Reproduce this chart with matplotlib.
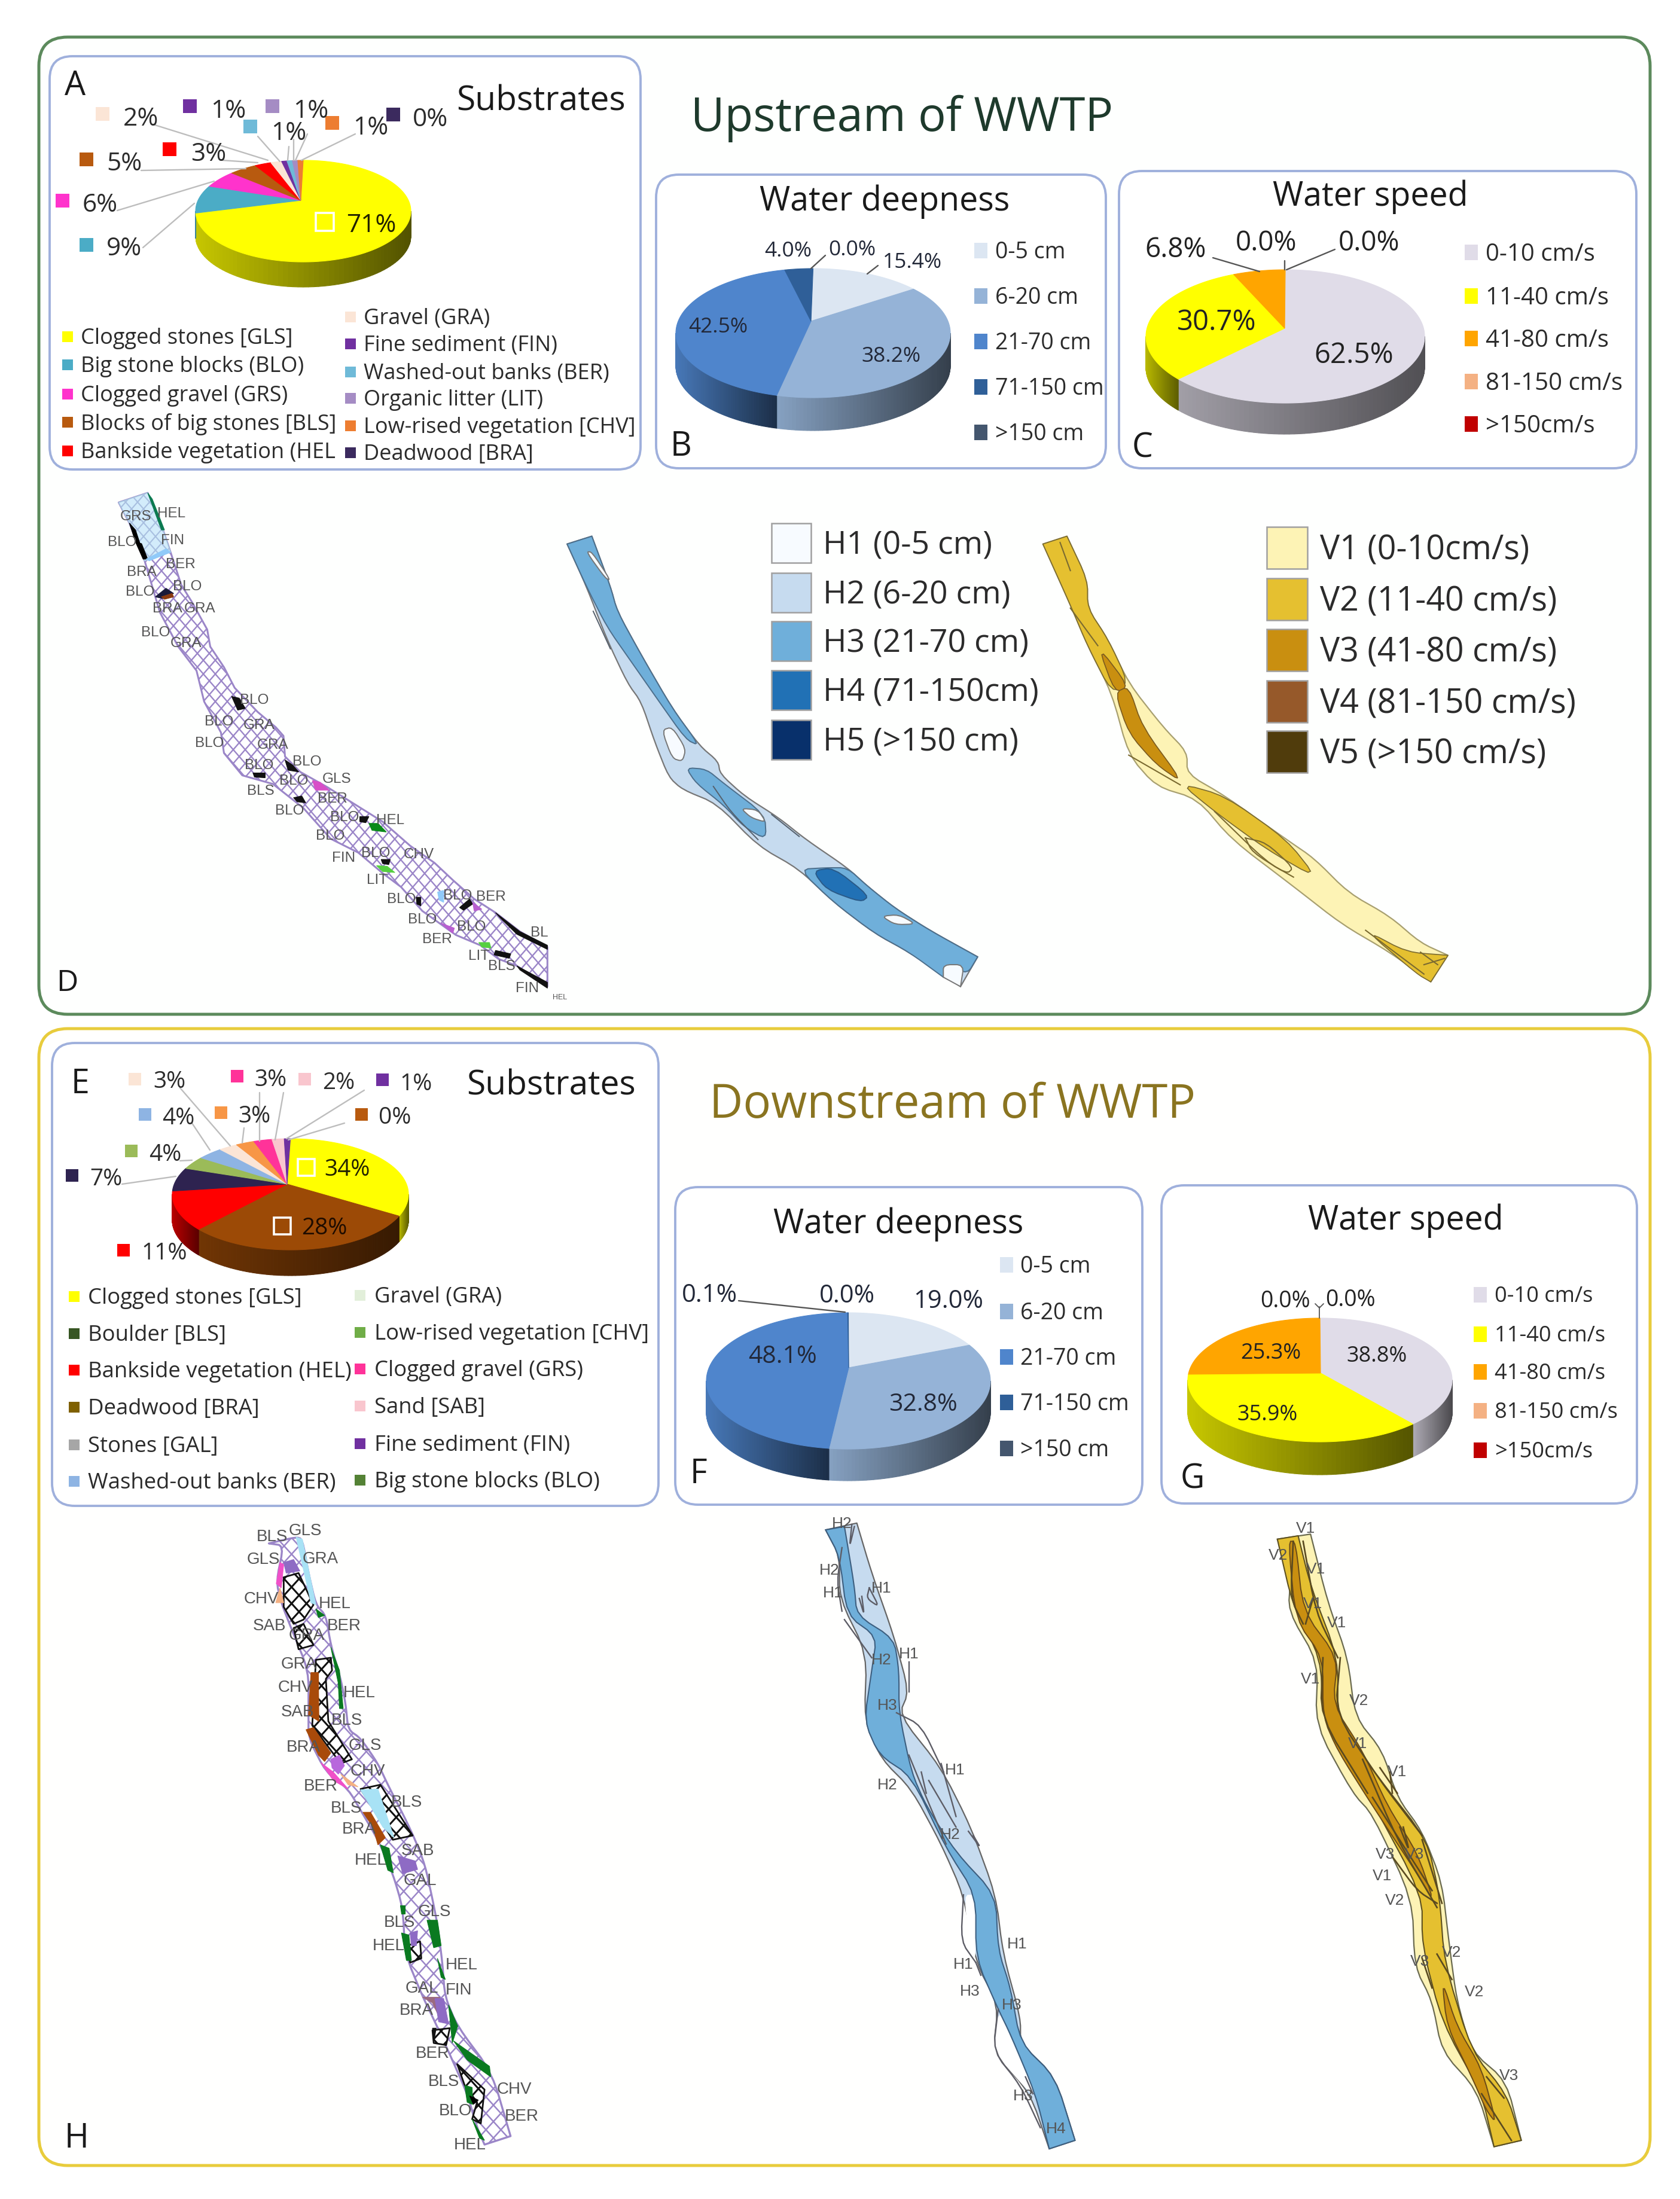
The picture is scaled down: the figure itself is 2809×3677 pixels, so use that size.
import numpy as np
import matplotlib
matplotlib.use("Agg")
import matplotlib.pyplot as plt
from matplotlib.patches import FancyBboxPatch, Rectangle, Polygon
from matplotlib.collections import LineCollection
from matplotlib.colors import to_rgb

# ---------- data ----------
SUB_A_LABELS = ["Clogged stones [GLS]", "Big stone blocks (BLO)", "Clogged gravel (GRS)", "Blocks of big stones [BLS]",
                "Bankside vegetation (HEL", "Gravel (GRA)", "Fine sediment (FIN)", "Washed-out banks (BER)",
                "Organic litter (LIT)", "Low-rised vegetation [CHV]", "Deadwood [BRA]"]
SUB_A_VALUES = [71, 9, 6, 5, 3, 2, 1, 1, 1, 1, 0]
SUB_A_COLORS = ["#FFFF00", "#4BACC6", "#FF33CC", "#B85A0F", "#FF0000", "#FBE5D6", "#7030A0", "#6FBAD8", "#A58CC4", "#ED7D31", "#3B2A5E"]

DEPTH_LABELS = ["0-5 cm", "6-20 cm", "21-70 cm", "71-150 cm", ">150 cm"]
DEPTH_COLORS = ["#DCE6F2", "#95B3D7", "#4F85CC", "#2F5F98", "#44566E"]
DEPTH_UP = [15.4, 38.2, 42.5, 4.0, 0.0]
DEPTH_DOWN = [19.0, 32.8, 48.1, 0.1, 0.0]

SPEED_LABELS = ["0-10 cm/s", "11-40 cm/s", "41-80 cm/s", "81-150 cm/s", ">150cm/s"]
SPEED_COLORS = ["#E0DCE8", "#FFFF00", "#FFA500", "#F4B183", "#C00000"]
SPEED_UP = [62.5, 30.7, 6.8, 0.0, 0.0]
SPEED_DOWN_VALUES = [38.8, 35.9, 25.3, 0.0, 0.0]

SUB_E_LEFT = ["Clogged stones [GLS]", "Boulder [BLS]", "Bankside vegetation (HEL)", "Deadwood [BRA]", "Stones [GAL]", "Washed-out banks (BER)"]
SUB_E_LEFT_C = ["#FFFF00", "#375623", "#FF0000", "#7F6000", "#A6A6A6", "#8EB4E3"]
SUB_E_RIGHT = ["Gravel (GRA)", "Low-rised vegetation [CHV]", "Clogged gravel (GRS)", "Sand [SAB]", "Fine sediment (FIN)", "Big stone blocks (BLO)"]
SUB_E_RIGHT_C = ["#E2EFDA", "#70AD47", "#FF3399", "#F9C6CE", "#7030A0", "#548235"]
SUB_E_VALUES = [34, 28, 11, 7, 4, 4, 3, 3, 3, 2, 1, 0]
SUB_E_COLORS = ["#FFFF00", "#9C4A06", "#FF0000", "#2E2350", "#9BBB59", "#8EB4E3", "#FBE5D6", "#F79646", "#FF3399", "#F9C6CE", "#7030A0", "#B85A0F"]

H_LEGEND = ["H1 (0-5 cm)", "H2 (6-20 cm)", "H3 (21-70 cm)", "H4 (71-150cm)", "H5 (>150 cm)"]
H_COLORS = ["#F7FBFF", "#C6DBEF", "#6FAFDA", "#2171B5", "#08306B"]
V_LEGEND = ["V1 (0-10cm/s)", "V2 (11-40 cm/s)", "V3 (41-80 cm/s)", "V4 (81-150 cm/s)", "V5 (>150 cm/s)"]
V_COLORS = ["#FDF3B5", "#E5C030", "#C98F10", "#96592A", "#503C0C"]

# map D (crop 150,800,800x900)
D_BANK = [(95,70),(190,42),(225,110),(265,215),(300,310),(335,360),(385,440),(395,490),(440,550),(475,610),(550,680),(610,725),(635,750),(640,810),(690,855),(780,900),(870,950),(960,1000),(1050,1070),(1130,1120),(1190,1170),(1260,1225),(1330,1265),(1410,1320),(1500,1365),(1500,1480),(1400,1420),(1340,1400),(1280,1360),(1200,1330),(1090,1260),(1020,1190),(960,1150),(880,1090),(790,1050),(700,960),(600,890),(500,865),(440,800),(430,740),(375,650),(350,560),(290,490),(230,390),(180,240),(130,130)]
D_TOP = [(95,70),(190,42),(225,110),(265,215),(180,240),(130,130)]
D_PATCHES = [("#000000",[(150,185),(170,190),(190,235),(175,235)]),("#000000",[(130,130),(150,150),(165,190),(150,185)]),
 ("#0b7a50",[(190,42),(205,60),(245,150),(235,150)]),("#90CAF9",[(185,235),(250,205),(265,215),(195,240)]),
 ("#1a1a3a",[(215,345),(250,320),(275,335),(240,350)]),("#8B3A0F",[(235,345),(270,335),(275,345),(245,352)]),
 ("#111111",[(465,635),(490,640),(510,670),(485,675)]),("#111111",[(640,820),(665,835),(685,855),(650,850)]),
 ("#111111",[(535,858),(575,858),(575,872),(540,870)]),("#111111",[(668,930),(695,925),(708,945),(680,942)]),
 ("#111111",[(885,985),(915,985),(905,1003),(885,1000)]),("#0a8a1a",[(915,1005),(945,1005),(972,1030),(925,1025)]),
 ("#d84fc8",[(730,880),(755,885),(785,908),(740,908)]),("#55d040",[(940,1128),(975,1130),(1000,1148),(960,1145)]),
 ("#111111",[(955,1110),(985,1110),(980,1125),(960,1122)]),("#111111",[(1212,1250),(1245,1225),(1255,1240),(1225,1258)]),
 ("#b95fd0",[(1255,1235),(1285,1255),(1260,1260)]),("#b95fd0",[(1150,1295),(1195,1310),(1190,1325)]),
 ("#111111",[(1070,1220),(1085,1220),(1085,1245),(1072,1240)]),("#90CAF9",[(1140,1205),(1160,1200),(1160,1235),(1145,1228)]),
 ("#111111",[(1330,1265),(1410,1320),(1500,1360),(1500,1372),(1400,1328),(1345,1280)]),("#111111",[(1330,1375),(1380,1385),(1375,1398),(1325,1388)]),
 ("#55d040",[(1275,1352),(1310,1352),(1315,1368),(1285,1365)]),("#111111",[(1400,1420),(1500,1468),(1500,1485),(1410,1432)])]
D_TEXT = [("GRS",152,107),("HEL",268,100),("BLO",107,183),("FIN",272,178),("BRA",170,270),("BER",297,248),("BLO",165,327),("BLO",320,312),("BRA",255,377),("GRA",360,377),("BLO",215,445),("GRA",315,478),("BLO",540,643),("BLO",423,705),("GRA",555,716),("BLO",392,768),("GRA",600,773),("BLO",556,832),("BLO",712,822),("GLS",810,873),("BLO",668,878),("BLS",560,908),("BER",795,930),("BLO",655,965),("BLO",835,985),("HEL",985,993),("BLO",788,1038),("FIN",833,1103),("BLO",937,1088),("CHV",1078,1093),("LIT",942,1167),("BLO",1022,1222),("BLO",1205,1213),("BER",1315,1216),("BLO",1090,1282),("BLO",1250,1303),("BER",1138,1340),("BL",1473,1320),("LIT",1275,1388),("BLS",1350,1418),("FIN",1433,1482)]

# map upstream blue / yellow (crop 900,860,1800x820)
UB_BANK = [(78,70),(105,230),(115,310),(150,450),(195,620),(235,740),(262,790),(265,830),(300,900),(350,970),(390,1040),(450,1130),(480,1190),(520,1260),(570,1330),(640,1415),(615,1510),(540,1400),(490,1340),(430,1240),(380,1135),(320,1060),(260,925),(210,880),(190,840),(170,730),(150,600),(130,540),(100,400),(70,230),(42,95)]
UB_H3 = [[(42,95),(78,70),(105,230),(115,310),(150,450),(195,620),(235,740),(215,720),(170,580),(135,470),(100,360),(70,230)],
 [(215,810),(245,815),(270,860),(330,960),(332,1040),(300,1000),(270,930),(230,860)],
 [(380,1135),(420,1130),(450,1130),(480,1190),(520,1260),(570,1330),(640,1415),(625,1470),(600,1440),(590,1480),(540,1400),(490,1340),(430,1240)]]
UB_H4 = [(400,1140),(430,1130),(482,1220),(470,1240),(420,1200)]
UB_H1 = [[(180,690),(195,680),(215,750),(210,790),(195,780)],[(295,940),(320,945),(332,985),(310,970)],[(500,1285),(525,1280),(550,1310),(520,1312)],[(590,1440),(620,1440),(615,1510),(590,1480)],[(70,120),(78,120),(105,210),(98,205)]]
UB_LINES = [[(255,870),(280,950),(320,1040)],[(340,960),(380,1030)],[(80,310),(105,430)]]
UY_BANK = [(770,70),(800,210),(800,300),(830,400),(860,540),(910,680),(945,760),(945,830),(1000,900),(1090,1040),(1130,1100),(1180,1210),(1240,1285),(1285,1370),(1325,1410),(1300,1495),(1240,1400),(1170,1310),(1100,1190),(1010,1040),(960,910),(900,870),(860,770),(835,570),(800,420),(775,290),(735,95)]
UY_V2 = [[(735,95),(770,70),(800,210),(800,300),(830,400),(860,540),(835,570),(800,420),(775,290)],[(935,860),(1000,900),(1090,1040),(1135,1165),(1060,1070),(985,950)],[(1205,1330),(1265,1400),(1325,1410),(1300,1495),(1280,1470)]]
UY_V3 = [[(815,420),(860,550),(840,570)],[(840,570),(860,550),(880,680),(940,860),(900,800),(860,700)]]
UY_LINES = [[(985,950),(1060,1110),(1100,1160)],[(1030,1035),(1060,1050),(1100,1130),(1090,1150),(1040,1080),(1030,1035)],[(1285,1400),(1310,1440)],[(1290,1440),(1320,1420)],[(1205,1330),(1290,1470)],[(760,90),(775,180)],[(775,300),(815,420)],[(860,770),(935,865)]]

# map H (crop 350,2510,650x1110)
H_BANK = [(240,100),(350,85),(375,90),(400,170),(430,245),(470,270),(490,340),(530,420),(550,480),(560,540),(610,560),(680,620),(720,670),(790,750),(830,800),(870,860),(900,940),(920,1000),(940,1090),(950,1170),(1000,1240),(1140,1350),(1215,1500),(1110,1520),(1080,1480),(1040,1400),(980,1320),(910,1230),(860,1170),(790,1070),(780,960),(740,880),(680,800),(620,740),(560,680),(470,640),(400,560),(400,500),(400,400),(330,300),(290,240),(270,190),(300,105)]
H_BLACK = [[(300,180),(360,170),(420,245),(380,280),(340,290),(300,250)],[(340,300),(380,290),(420,340),(360,350)],[(430,375),(490,370),(495,400),(470,420),(480,520),(575,610),(530,620),(415,530)],[(610,680),(690,670),(820,790),(740,800)],[(900,1250),(970,1245),(955,1285),(905,1280)],[(1000,1330),(1110,1390),(1095,1470),(1060,1460),(1080,1420),(1030,1380)],[(800,1050),(850,1040),(855,1080),(810,1090)]]
H_PATCHES = [("#8E6BC4",[(300,145),(340,138),(365,165),(310,170)]),("#F050C8",[(285,145),(300,150),(290,205),(270,195)]),
 ("#A8E2F5",[(350,85),(375,90),(430,245),(410,240),(375,150)]),("#F4B183",[(285,205),(300,240),(268,240)]),
 ("#0a7a20",[(430,255),(465,270),(440,275)]),("#0a7a20",[(490,345),(525,400),(540,490),(525,490),(520,430)]),
 ("#A84A0A",[(410,405),(440,405),(442,520),(400,505)]),("#A84A0A",[(390,540),(420,535),(490,595),(465,615),(440,600)]),
 ("#B868DC",[(490,610),(525,600),(545,625),(520,645),(495,630)]),("#F050C8",[(450,618),(500,640),(560,680),(500,660)]),
 ("#F4B183",[(530,645),(600,675),(560,670)]),("#A8E2F5",[(610,682),(680,680),(745,795),(700,770)]),
 ("#A84A0A",[(620,735),(650,735),(710,795),(680,812),(660,770)]),("#0a7a20",[(690,812),(725,820),(742,878),(720,872)]),
 ("#8E6BC4",[(760,838),(830,850),(840,870),(780,880)]),("#0a7a20",[(878,990),(920,990),(935,1050),(905,1055)]),
 ("#0a7a20",[(775,1020),(805,1025),(815,1085),(795,1085)]),("#8E6BC4",[(810,1020),(840,1015),(835,1050),(815,1050)]),
 ("#0a7a20",[(920,1080),(952,1130),(935,1125)]),("#9b6a80",[(860,1172),(930,1172),(920,1210),(900,1185)]),
 ("#8E6BC4",[(910,1175),(945,1175),(965,1235),(925,1230)]),("#0a7a20",[(965,1190),(1002,1240),(980,1280)]),
 ("#0a7a20",[(985,1275),(1130,1335),(1135,1360),(1040,1320)]),("#0a7a20",[(1030,1380),(1060,1385),(1062,1425),(1040,1420)]),
 ("#000000",[(1050,1405),(1085,1415),(1065,1425)]),("#0a7a20",[(1060,1460),(1110,1510),(1090,1505)]),
 ("#0a7a20",[(770,955),(790,955),(790,975),(775,975)]),("#111111",[(900,1245),(915,1245),(905,1280)])]
H_TEXT = [("GLS",388,67),("BLS",253,82),("GLS",217,135),("GRA",447,133),("CHV",210,228),("HEL",505,240),("SAB",243,292),("BER",543,292),("GRA",393,315),("GRA",362,382),("CHV",347,437),("HEL",605,450),("SAB",355,495),("BLS",555,515),("BRA",380,578),("GLS",628,575),("CHV",640,635),("BER",450,670),("BLS",795,708),("BLS",552,722),("BRA",603,772),("SAB",840,823),("HEL",650,845),("GAL",850,893),("GLS",907,967),("BLS",768,993),("HEL",723,1048),("HEL",1018,1093),("GAL",858,1148),("FIN",1005,1152),("BRA",835,1200),("BER",900,1302),("BLS",945,1368),("CHV",1230,1386),("BLO",992,1438),("BER",1260,1450),("HEL",1050,1518)]

# maps downstream blue / yellow (crop 1300,2510,1300x1110)
DB_BANK = [(160,52),(190,170),(235,320),(265,450),(245,505),(330,630),(390,770),(440,930),(455,1070),(490,1220),(490,1280),(560,1360),(600,1510),(548,1530),(510,1400),(435,1300),(445,1190),(400,1090),(375,930),(330,810),(270,680),(210,610),(175,520),(180,360),(125,230),(125,130),(97,68)]
DB_WHITE = [[(375,930),(400,930),(400,1080),(392,1075)],[(445,1200),(470,1265),(520,1400),(510,1400),(435,1300)]]
DB_H3 = [(97,68),(135,60),(155,200),(160,270),(235,325),(245,400),(245,500),(270,640),(300,720),(360,830),(440,930),(445,1060),(470,1150),(490,1280),(560,1360),(600,1510),(548,1530),(520,1400),(470,1260),(445,1200),(400,1080),(400,930),(340,820),(270,650),(205,600),(175,520),(190,400),(200,320),(140,270),(125,130)]
DB_LINES = [[(155,60),(145,110),(150,55)],[(170,225),(175,270),(165,230)],[(185,205),(205,250),(180,230),(185,205)],[(240,500),(290,530),(335,640)],[(265,600),(300,700),(340,810)],[(305,660),(360,770)],[(330,620),(360,745)],[(385,780),(410,820),(395,790)],[(375,930),(370,1040),(400,1090)],[(265,380),(265,450)],[(400,1090),(410,1120)],[(445,1200),(435,1300),(490,1380),(530,1480)],[(500,1360),(515,1400)],[(130,110),(120,190),(130,260)],[(290,640),(300,690)],[(135,280),(190,370)]]
DB_TEXT = [("H2",130,50),("H2",105,160),("H1",112,215),("H1",210,203),("H1",265,358),("H2",210,372),("H3",222,480),("H1",358,632),("H2",222,668),("H2",348,785),("H1",483,1043),("H1",375,1092),("H3",388,1155),("H3",472,1187),("H3",495,1402),("H4",562,1480)]
DY_BANK = [(1075,78),(1110,240),(1150,370),(1165,510),(1220,590),(1250,700),(1300,780),(1340,900),(1355,1050),(1370,1180),(1400,1300),(1470,1370),(1500,1510),(1445,1525),(1410,1390),(1340,1300),(1320,1180),(1285,1100),(1280,940),(1200,740),(1160,690),(1085,530),(1090,380),(1030,260),(1035,180),(1008,90)]
DY_V2 = [(1008,90),(1050,82),(1075,200),(1130,370),(1130,520),(1210,650),(1310,800),(1335,930),(1345,1090),(1400,1300),(1470,1400),(1500,1510),(1445,1525),(1420,1400),(1340,1230),(1300,1050),(1300,930),(1190,690),(1100,510),(1095,370),(1040,250)]
DY_V3 = [[(1030,95),(1045,95),(1060,260),(1130,370),(1120,480),(1180,590),(1230,720),(1290,830),(1325,950),(1290,880),(1200,720),(1130,590),(1100,510),(1100,370),(1045,280)],[(1340,1130),(1370,1240),(1420,1340),(1450,1470),(1430,1440),(1400,1360),(1350,1240)]]
DY_LINES = [[(1040,95),(1035,230),(1060,290)],[(1060,95),(1085,260),(1130,370)],[(1100,370),(1095,510),(1190,690)],[(1135,370),(1125,500),(1215,660),(1300,790)],[(1215,630),(1250,690)],[(1235,640),(1240,690)],[(1200,700),(1260,810),(1320,920)],[(1180,610),(1250,800),(1330,960)],[(1240,840),(1290,920),(1330,950)],[(1300,1080),(1320,1150)],[(1330,1070),(1360,1130)],[(1255,770),(1275,830),(1262,770)],[(1430,1360),(1465,1410)],[(1420,1400),(1480,1510)],[(1080,230),(1065,290)],[(1300,800),(1340,950)]]
DY_TEXT = [("V1",1065,62),("V2",1010,125),("V1",1085,158),("V1",1080,240),("V1",1128,285),("V1",1075,418),("V2",1172,468),("V1",1170,570),("V1",1250,637),("V3",1225,832),("V3",1285,832),("V1",1220,883),("V2",1245,940),("V2",1360,1063),("V3",1295,1085),("V2",1405,1157),("V3",1475,1355)]

# river end corners that stay sharp when the banks are smoothed
SHARP = {(78,70),(42,95),(640,1415),(615,1510),(770,70),(735,95),(1325,1410),(1300,1495),(160,52),(97,68),(600,1510),(548,1530),
         (1075,78),(1008,90),(1500,1510),(1445,1525),(1215,1500),(1110,1520),(1050,82),(135,60),(590,1480),(240,100)}

# ---------- helpers ----------
W, H = 2809, 3677
plt.rcParams["font.family"] = ["Open Sans", "DejaVu Sans"]
fig = plt.figure(figsize=(W/100, H/100), dpi=100)
ax = fig.add_axes([0, 0, 1, 1])
ax.set_xlim(0, W); ax.set_ylim(H, 0); ax.axis("off")
TXT = "#2b2b2b"
def crop(pts, x0, y0, w, h):
    return [(x0 + x*w/1568, y0 + y*h/1568) for x, y in pts]
def keep_sharp(pts):
    out = []
    for p in pts:
        out += [p, p] if tuple(p) in SHARP else [p]
    return out
def smooth(pts, closed=True, n=2, r=0.2):
    p = np.array(pts, float)
    for _ in range(n):
        q = np.roll(p, -1, axis=0) if closed else p[1:]
        a = p if closed else p[:-1]
        s = np.empty((2*len(a), 2))
        s[0::2] = a*(1-r) + q*r
        s[1::2] = a*r + q*(1-r)
        p = s
    return p
def T(x, y, s, size, ha="left", color=TXT, family=None, z=20, **kw):
    return ax.text(x, y + 0.12*size, s, fontsize=size, ha=ha, va="center", color=color, zorder=z,
                   **({"family": family} if family else {}), **kw)
def box(l, t, r, b, ec, lw, rad=38, fc="white"):
    ax.add_patch(FancyBboxPatch((l, t), r-l, b-t, boxstyle=f"round,pad=0,rounding_size={rad}",
                                fc=fc, ec=ec, lw=lw, zorder=1))
def shade(c, f):
    return tuple(min(1, v*f) for v in to_rgb(c))
def sq(x, y, c, s=24, sy=None):
    sy = sy or s
    ax.add_patch(Rectangle((x-s/2, y-sy/2), s, sy, fc=c, ec="none", zorder=10))
def hollow(x, y, s=30):
    ax.add_patch(Rectangle((x-s/2, y-s/2), s, s, fc="none", ec="white", lw=2.6, zorder=12))
def lines(segs, c="#bdbdbd", lw=1.7):
    for (x1, y1, x2, y2) in segs:
        ax.plot([x1, x2], [y1, y2], color=c, lw=lw, zorder=9, solid_capstyle="round")

def pie3d(cx, cy, left, right, top, bottom, depth, values, colors, f0=0.85, f1=0.38):
    a, b = cy-top, bottom-cy
    k = (b-a)/(a+b); ry = 2*a*b/(a+b)
    rx = 0.5*((cx-left)+(right-cx))*np.sqrt(1-k*k)
    xc = cx + 0.5*((right-cx)-(cx-left))
    def rim(t):
        u, v = np.sin(t), np.cos(t)
        return xc + rx*u/(1+k*v), cy - ry*v/(1+k*v)
    total = sum(values)
    edges = np.concatenate([[0], np.cumsum(values)])/total*2*np.pi
    vis0 = np.arccos(-k); vis1 = 2*np.pi - vis0
    for i, c in enumerate(colors):
        t0, t1 = max(edges[i], vis0), min(edges[i+1], vis1)
        if t1 <= t0:
            continue
        ts = np.linspace(t0, t1, 70)
        X, Y = rim(ts)
        xl, xr = X.min(), X.max()
        for j in range(len(ts)-1):
            frac = (0.5*(X[j]+X[j+1]) - xl)/max(xr-xl, 1)
            col = shade(c, f0 + (f1-f0)*frac)
            ax.fill([X[j], X[j+1], X[j+1], X[j]], [Y[j], Y[j+1], Y[j+1]+depth, Y[j]+depth],
                    fc=col, ec=col, lw=0.8, zorder=3)
    for i, c in enumerate(colors):
        if edges[i+1] <= edges[i]:
            continue
        ts = np.linspace(edges[i], edges[i+1], 200)
        X, Y = rim(ts)
        ax.fill(np.r_[cx, X], np.r_[cy, Y], fc=c, ec=c, lw=0.8, zorder=4)

def crosshatch(patch, xy, color, lw, step, slope, z):
    xy = np.asarray(xy)
    x0, x1 = xy[:, 0].min()-5, xy[:, 0].max()+5
    segs = []
    for sgn in (1, -1):
        vals = xy[:, 1] - sgn*slope*xy[:, 0]
        dy = step*slope
        for k in np.arange(np.floor(vals.min()/dy), np.ceil(vals.max()/dy)+1):
            cc = k*dy
            segs.append([(x0, sgn*slope*x0+cc), (x1, sgn*slope*x1+cc)])
    lc = LineCollection(segs, colors=color, linewidths=lw, zorder=z)
    ax.add_collection(lc, autolim=False)
    lc.set_clip_path(patch)

def river(bank, x0, y0, w, h, fc, ec, lw=1.5, z=5, soft=True, hatch=None):
    pts = crop(keep_sharp(bank), x0, y0, w, h)
    xy = smooth(pts) if soft else np.array(pts)
    p = Polygon(xy, closed=True, fc=fc, ec=ec, lw=lw, zorder=z, joinstyle="round")
    ax.add_patch(p)
    if hatch:
        crosshatch(p, xy, *hatch, z+0.1)
    return p
def blob(pts, c, fc, ec, lw, z):
    s = smooth(crop(keep_sharp(pts), *c))
    ax.fill(s[:, 0], s[:, 1], fc=fc, ec=ec, lw=lw, zorder=z)
def curve(pts, c, col, lw, z):
    s = np.array(crop(pts, *c))
    if len(s) > 2:
        s = np.vstack([s[0], smooth(s, closed=False), s[-1]])
    ax.plot(s[:, 0], s[:, 1], color=col, lw=lw, zorder=z)
def maptext(items, x0, y0, w, h, size):
    for s, x, y in items:
        px, py = crop([(x, y)], x0, y0, w, h)[0]
        T(px, py, s, size, ha="center", color="#555555", family="Liberation Sans", z=15)

# ---------- outer panels ----------
box(65, 62, 2759, 1696, "#5c8a5c", 3.6, rad=48, fc="#fefffe")
box(65, 1720, 2759, 3621, "#E8CC3C", 3.6, rad=48, fc="#fffffe")
PANEL = "#9fb0dc"
for l, t, r, b in [(83, 94, 1071, 785), (1097, 292, 1849, 783), (1871, 286, 2736, 783),
                   (87, 1744, 1101, 2518), (1129, 1985, 1910, 2516), (1942, 1982, 2737, 2514)]:
    box(l, t, r, b, PANEL, 2.8)

T(1508, 192, "Upstream of WWTP", 56, ha="center", color="#1E3A2C")
T(1593, 1842, "Downstream of WWTP", 56, ha="center", color="#8A7420")

# ---------- panel A ----------
T(126, 140, "A", 40, ha="center", color="#1a1a1a")
T(904, 165, "Substrates", 41, ha="center", color="#1a1a1a")
pie3d(503, 335, 327, 687, 268, 438, 42, SUB_A_VALUES, SUB_A_COLORS, 0.78, 0.32)
lines([(259,209,448,268),(372,268,431,272),(236,285,411,282),(196,352,358,303),(239,414,325,340),(431,228,468,270),
       (483,245,481,268),(491,233,491,268),(514,224,494,268),(594,224,504,268)])
A_MARK = [(171,191,206,195,5),(317,178,352,182,6),(455,178,490,182,8),(418,212,453,219,7),(555,206,590,210,9),(657,192,690,196,10),
          (283,250,319,254,4),(144,267,178,270,3),(104,336,138,339,2),(144,410,178,412,1)]
for sx_, sy_, tx, ty, i in A_MARK:
    sq(sx_, sy_, SUB_A_COLORS[i], 23)
    T(tx, ty, f"{SUB_A_VALUES[i]}%", 30.5)
hollow(543, 371); T(579, 373, f"{SUB_A_VALUES[0]}%", 30.5, color="#222200")
for i, y in enumerate([563, 610, 659, 706, 754]):
    sq(113, y, SUB_A_COLORS[i], 18); T(135, y, SUB_A_LABELS[i], 26)
for i, y in enumerate([530, 575, 622, 666, 712, 757]):
    sq(586, y, SUB_A_COLORS[i+5], 18); T(608, y, SUB_A_LABELS[i+5], 26)

# ---------- panel B ----------
T(1479, 332, "Water deepness", 40, ha="center", color="#1a1a1a")
pie3d(1356, 537, 1130, 1589, 449, 665, 55, DEPTH_UP, DEPTH_COLORS, 0.9, 0.35)
lines([(1380,427,1356,449),(1468,444,1450,458)], c="#555555")
for s, x, y in [(3,1318,417),(4,1425,415),(0,1525,436),(2,1201,544),(1,1490,593)]:
    T(x, y, f"{DEPTH_UP[s]:.1f}%", 25.5, ha="center", color="#222838")
for i, y in enumerate([419, 495, 571, 647, 723]):
    sq(1640, y, DEPTH_COLORS[i], 22, 26); T(1664, y, DEPTH_LABELS[i], 27)
T(1139, 743, "B", 40, ha="center", color="#1a1a1a")

# ---------- panel C ----------
T(2291, 324, "Water speed", 40, ha="center", color="#1a1a1a")
pie3d(2148, 549, 1916, 2382, 451, 674, 52, SPEED_UP, SPEED_COLORS, 0.72, 0.36)
lines([(2028,431,2106,454),(2232,417,2151,451),(2148,436,2148,451)], c="#555555")
for s, x, y, z in [(2,1966,414,33),(3,2117,403,33),(4,2289,403,33),(1,2034,535,34),(0,2264,590,34)]:
    T(x, y, f"{SPEED_UP[s]:.1f}%", z, ha="center", color="#222222")
for i, y in enumerate([422, 495, 566, 638, 709]):
    sq(2460, y, SPEED_COLORS[i], 22, 26); T(2484, y, SPEED_LABELS[i], 29)
T(1910, 745, "C", 40, ha="center", color="#1a1a1a")

# ---------- map D ----------
c = (150, 800, 800, 900)
river(D_BANK, *c, "white", "#9B86C8", lw=2.2, z=5, soft=False, hatch=("#9B86C8", 1.7, 20, 1.15))
river(D_TOP, *c, "#D3ECFB", "#A8C8E0", lw=1.2, z=6, soft=False, hatch=("#A8BFE0", 1.5, 20, 1.15))
for col, pts in D_PATCHES:
    ax.fill(*zip(*crop(pts, *c)), fc=col, ec=col, lw=0.8, zorder=7)
maptext(D_TEXT, *c, 17.5)
T(936, 1667, "HEL", 9, ha="center", color="#555555", family="Liberation Sans")
T(112, 1640, "D", 36, ha="center", color="#1a1a1a")

# ---------- map upstream depth / speed ----------
c = (900, 860, 1800, 820)
river(UB_BANK, *c, H_COLORS[1], "#777777", lw=1.6)
for p in UB_H3:
    blob(p, c, H_COLORS[2], "#4d6f8c", 1.4, 6)
blob(UB_H4, c, H_COLORS[3], "#2a5a88", 1.4, 7)
for p in UB_H1:
    blob(p, c, H_COLORS[0], "#777777", 1.4, 8)
for p in UB_LINES:
    curve(p, c, "#55606c", 1.4, 8)
for i, y in enumerate([908, 991, 1072, 1154, 1237]):
    ax.add_patch(Rectangle((1290, y-33), 66, 66, fc=H_COLORS[i], ec="#a0a0a0", lw=1.8, zorder=10))
    t = T(1376, y, H_LEGEND[i], 38.5)
    t.set_clip_path(Rectangle((1280, 850), 447, 450, transform=ax.transData))
river(UY_BANK, *c, V_COLORS[0], "#a8a070", lw=1.6)
for p in UY_V2:
    blob(p, c, V_COLORS[1], "#7a6a30", 1.2, 6)
for p in UY_V3:
    blob(p, c, V_COLORS[2], "#7a5a20", 1.2, 7)
for p in UY_LINES:
    curve(p, c, "#7a6a30", 1.5, 8)
for i, y in enumerate([916, 1002, 1087, 1173, 1257]):
    ax.add_patch(Rectangle((2118, y-35), 68, 70, fc=V_COLORS[i], ec="#a0a0a0", lw=1.8, zorder=10))
    T(2207, y, V_LEGEND[i], 40)

# ---------- panel E ----------
T(134, 1809, "E", 40, ha="center", color="#1a1a1a")
T(921, 1811, "Substrates", 41, ha="center", color="#1a1a1a")
pie3d(480, 1980, 288, 683, 1904, 2090, 43, SUB_E_VALUES, SUB_E_COLORS, 0.72, 0.35)
lines([(301,1819,385,1916),(321,1878,351,1923),(301,1941,321,1940),(204,1980,294,1967),(408,1886,405,1911),
       (434,1827,434,1908),(474,1827,460,1906),(609,1823,479,1904),(576,1878,482,1906)])
E_MARK = [(225,1805,256,1806,6),(396,1800,425,1803,8),(509,1805,539,1808,9),(639,1806,668,1810,10),(242,1864,271,1867,5),
          (369,1861,398,1864,7),(604,1864,633,1866,11),(219,1925,249,1928,4),(120,1966,150,1969,3),(206,2091,236,2093,2)]
for sx_, sy_, tx, ty, i in E_MARK:
    sq(sx_, sy_, SUB_E_COLORS[i], 21)
    t = T(tx, ty, f"{SUB_E_VALUES[i]}%", 28)
    t.set_clip_path(Rectangle((90, 1750), 625, 500, transform=ax.transData))
hollow(512, 1952, 28); T(542, 1953, f"{SUB_E_VALUES[0]}%", 28, color="#222200")
hollow(472, 2050, 28); T(504, 2051, f"{SUB_E_VALUES[1]}%", 28, color="#1e0c00")
Y_E = [2168, 2230, 2291, 2353, 2416, 2477]
for i, y in enumerate(Y_E):
    sq(124, y, SUB_E_LEFT_C[i], 18); T(147, y, SUB_E_LEFT[i], 26.3)
    sq(602, y-2, SUB_E_RIGHT_C[i], 18); T(626, y-2, SUB_E_RIGHT[i], 26.3)

# ---------- panel F ----------
T(1502, 2042, "Water deepness", 40, ha="center", color="#1a1a1a")
pie3d(1419, 2287, 1181, 1656, 2195, 2423, 53, DEPTH_DOWN, DEPTH_COLORS, 0.9, 0.35)
lines([(1235,2175,1413,2194)], c="#555555")
for s, x, y, z in [(3,1186,2162,30),(4,1416,2163,30),(0,1586,2172,30),(2,1309,2265,29.5),(1,1544,2345,29.5)]:
    T(x, y, f"{DEPTH_DOWN[s]:.1f}%", z, ha="center", color="#222838")
for i, y in enumerate([2115, 2193, 2269, 2345, 2422]):
    sq(1683, y, DEPTH_COLORS[i], 22, 26); T(1706, y, DEPTH_LABELS[i], 27)
T(1168, 2461, "F", 40, ha="center", color="#1a1a1a")

# ---------- panel G ----------
T(2350, 2036, "Water speed", 40, ha="center", color="#1a1a1a")
pie3d(2208, 2296, 1986, 2428, 2204, 2411, 55, SPEED_DOWN_VALUES, SPEED_COLORS, 0.78, 0.33)
lines([(2206,2185,2206,2204),(2199,2180,2206,2187),(2213,2180,2206,2187)], c="#555555", lw=1.3)
for s, x, y, z in [(3,2149,2173,27),(4,2258,2171,27),(2,2125,2260,26),(0,2302,2265,26),(1,2119,2363,26)]:
    T(x, y, f"{SPEED_DOWN_VALUES[s]:.1f}%", z, ha="center", color="#222222")
for i, y in enumerate([2165, 2231, 2294, 2359, 2425]):
    sq(2475, y, SPEED_COLORS[i], 22, 26); T(2499, y, SPEED_LABELS[i], 26)
T(1994, 2469, "G", 40, ha="center", color="#1a1a1a")

# ---------- map H ----------
c = (350, 2510, 650, 1110)
river(H_BANK, *c, "white", "#9B86C8", lw=2.4, hatch=("#9B86C8", 1.8, 25, 1.1))
for p in H_BLACK:
    river(p, *c, "white", "#111111", lw=2.0, z=6, soft=False, hatch=("#111111", 2.2, 25, 1.1))
for col, pts in H_PATCHES:
    ax.fill(*zip(*crop(pts, *c)), fc=col, ec=col, lw=0.8, zorder=7)
maptext(H_TEXT, *c, 20)
T(128, 3572, "H", 40, ha="center", color="#1a1a1a")

# ---------- maps downstream depth / speed ----------
c = (1300, 2510, 1300, 1110)
river(DB_BANK, *c, H_COLORS[1], "#666666", lw=1.6)
for p in DB_WHITE:
    blob(p, c, "white", "none", 0, 6)
blob(DB_H3, c, H_COLORS[2], "#3d5f80", 1.5, 6.5)
for p in DB_LINES:
    curve(p, c, "#5d5d66", 1.7, 7)
maptext(DB_TEXT, *c, 19)
river(DY_BANK, *c, V_COLORS[0], "#6b6b50", lw=1.6)
blob(DY_V2, c, V_COLORS[1], "#5d5020", 1.5, 6)
for p in DY_V3:
    blob(p, c, V_COLORS[2], "#6a4a18", 1.4, 7)
for p in DY_LINES:
    curve(p, c, "#5a4a20", 1.9, 8)
maptext(DY_TEXT, *c, 19)

fig.savefig("out.png", dpi=100)
